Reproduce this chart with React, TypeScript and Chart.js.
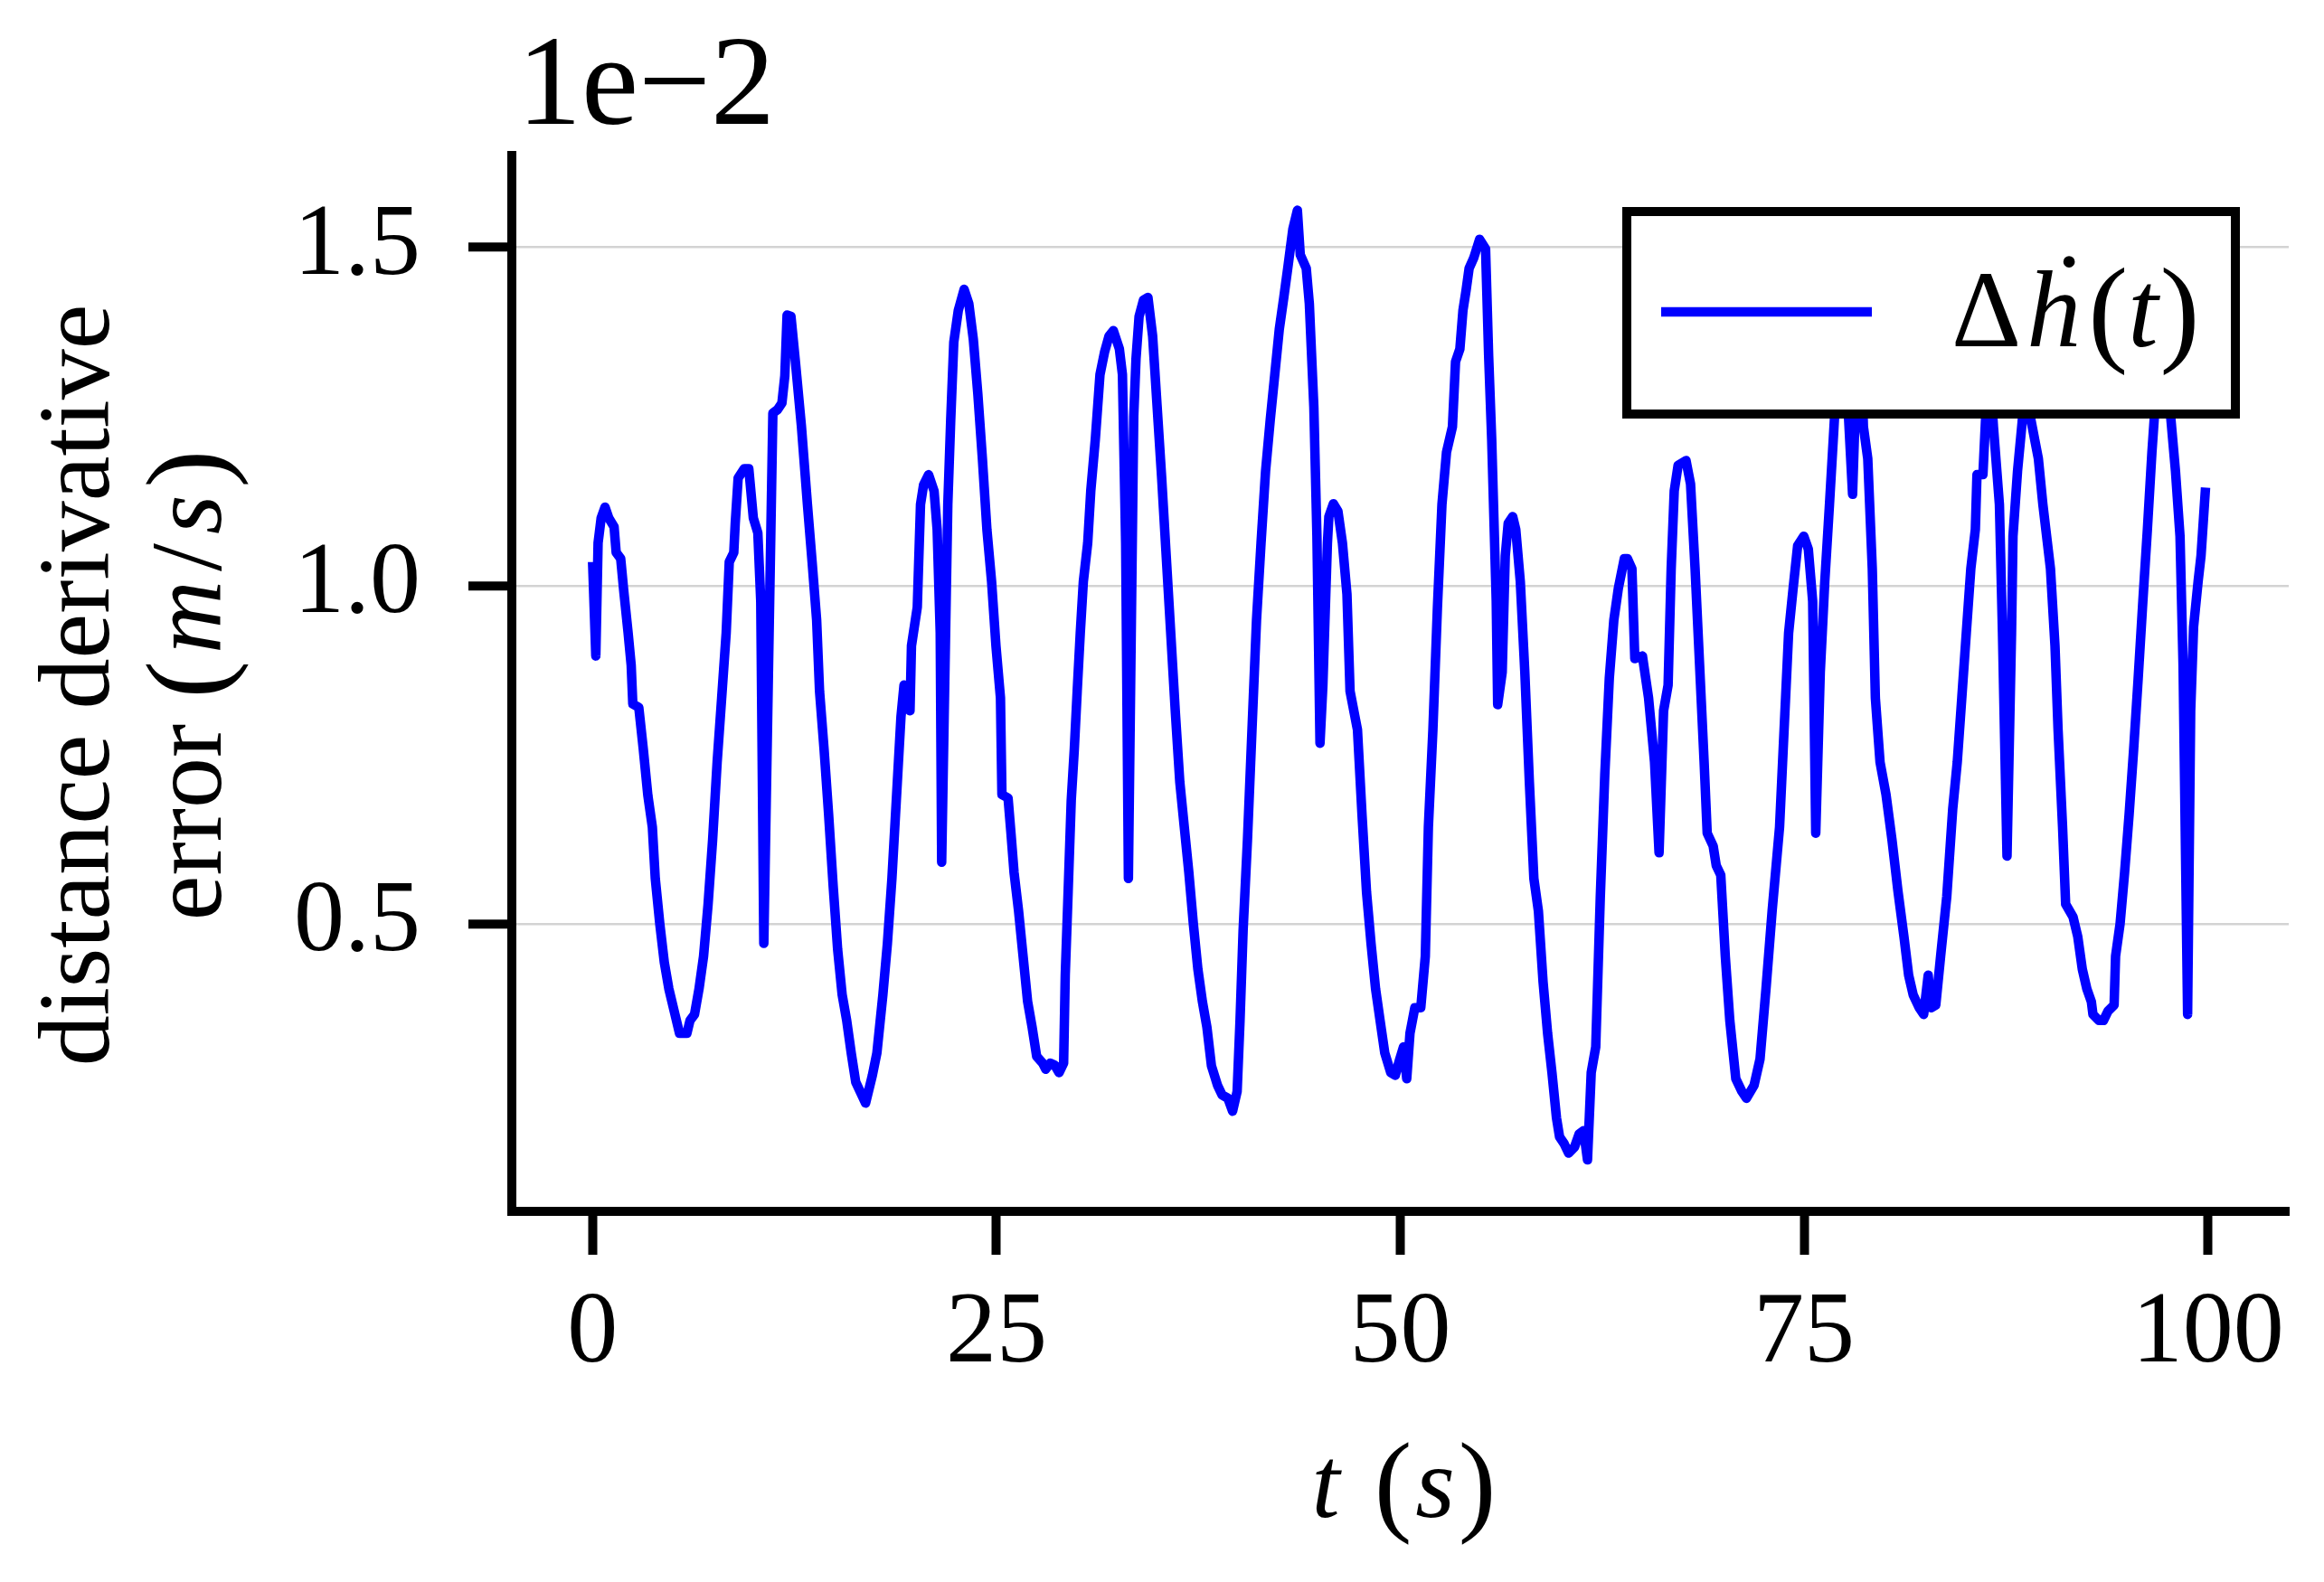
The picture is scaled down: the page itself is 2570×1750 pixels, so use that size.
import React, { useEffect, useRef } from 'react';
import { Chart, registerables } from 'chart.js';

Chart.register(...registerables);

// ---- data (time in s, error in units of 1e-2 m/s) ----
const timeS: number[] = [
  0.0, 0.2, 0.34, 0.53, 0.77, 1.0, 1.33, 1.46, 1.74, 1.93, 2.2, 2.39, 2.49, 2.86, 3.14, 3.42, 3.7, 3.88, 4.16, 4.44,
  4.72, 5.1, 5.38, 5.84, 6.03, 6.31, 6.59, 6.87, 7.15, 7.43, 7.71, 7.99, 8.27, 8.46, 8.74, 8.83, 9.01, 9.39, 9.67, 9.95,
  10.23, 10.41, 10.6, 11.16, 11.44, 11.72, 11.9, 12.04, 12.28, 12.56, 12.93, 13.3, 13.59, 13.87, 14.05, 14.33, 14.61, 14.89, 15.17, 15.45,
  15.73, 16.01, 16.29, 16.9, 17.32, 17.6, 17.97, 18.25, 18.53, 18.8, 19.09, 19.28, 19.65, 19.74, 20.1, 20.3, 20.49, 20.8, 21.14, 21.33,
  21.52, 21.61, 21.99, 22.17, 22.36, 22.64, 23.0, 23.29, 23.57, 23.85, 24.13, 24.41, 24.7, 24.97, 25.25, 25.34, 25.72, 25.9, 26.09, 26.37,
  26.65, 26.93, 27.21, 27.49, 27.86, 28.05, 28.33, 28.61, 28.88, 29.16, 29.26, 29.44, 29.63, 29.82, 30.0, 30.19, 30.38, 30.65, 30.84, 31.12,
  31.41, 31.69, 31.97, 32.24, 32.61, 32.8, 33.0, 33.17, 33.5, 33.64, 33.83, 34.1, 34.38, 34.67, 34.95, 35.23, 35.51, 35.79, 36.07, 36.35,
  36.63, 36.91, 37.19, 37.47, 37.75, 38.03, 38.31, 38.69, 38.97, 39.33, 39.62, 39.9, 40.08, 40.27, 40.54, 40.82, 41.1, 41.38, 41.66, 41.95,
  42.23, 42.51, 42.79, 43.06, 43.35, 43.63, 43.81, 44.18, 44.37, 44.65, 44.84, 45.03, 45.21, 45.49, 45.58, 45.86, 46.14, 46.42, 46.7, 46.89,
  47.35, 47.63, 47.91, 48.19, 48.47, 48.75, 49.04, 49.41, 49.69, 49.97, 50.2, 50.4, 50.6, 50.9, 51.27, 51.55, 51.74, 52.02, 52.3, 52.58,
  52.86, 53.23, 53.42, 53.69, 53.88, 54.07, 54.26, 54.54, 54.91, 55.28, 55.47, 55.66, 55.94, 56.03, 56.31, 56.5, 56.68, 56.96, 57.15, 57.43,
  57.71, 57.99, 58.27, 58.55, 58.84, 59.12, 59.39, 59.67, 59.86, 60.14, 60.42, 60.79, 61.07, 61.35, 61.59, 61.82, 62.1, 62.38, 62.66, 62.94,
  63.22, 63.5, 63.87, 64.06, 64.34, 64.52, 64.99, 65.37, 65.74, 66.02, 66.3, 66.58, 66.77, 66.96, 67.2, 67.69, 67.97, 68.25, 68.53, 68.81,
  69.0, 69.37, 69.56, 69.84, 70.12, 70.4, 70.77, 71.15, 71.43, 71.9, 72.27, 72.64, 73.02, 73.48, 73.76, 74.04, 74.32, 74.6, 74.98, 75.26,
  75.53, 75.72, 76.0, 76.28, 76.57, 76.85, 77.05, 77.3, 77.55, 78.0, 78.3, 78.5, 78.67, 78.94, 79.22, 79.41, 79.7, 80.07, 80.44, 80.81,
  81.18, 81.47, 81.75, 82.12, 82.4, 82.68, 82.87, 83.15, 83.45, 83.83, 84.2, 84.48, 84.76, 85.04, 85.32, 85.6, 85.7, 86.07, 86.3, 86.5,
  86.72, 87.09, 87.28, 87.56, 87.84, 87.93, 88.21, 88.49, 88.7, 88.9, 89.04, 89.5, 89.78, 90.25, 90.53, 90.72, 91.0, 91.19, 91.65, 91.94,
  92.22, 92.5, 92.78, 92.88, 93.25, 93.53, 93.81, 94.19, 94.28, 94.56, 94.84, 95.12, 95.4, 95.68, 95.97, 96.25, 96.53, 96.8, 97.2, 97.5,
  97.71, 97.99, 98.27, 98.46, 98.74, 98.93, 99.11, 99.39, 99.57, 99.85,
];

const errorVals: number[] = [
  1.035, 0.896, 1.063, 1.1, 1.116, 1.1, 1.087, 1.049, 1.04, 0.992, 0.93, 0.882, 0.825, 0.82, 0.758, 0.69, 0.643, 0.567, 0.5, 0.443,
  0.404, 0.366, 0.338, 0.338, 0.357, 0.366, 0.404, 0.452, 0.529, 0.624, 0.739, 0.834, 0.93, 1.035, 1.049, 1.092, 1.159, 1.173, 1.173, 1.1,
  1.078, 0.977, 0.471, 1.255, 1.26, 1.27, 1.31, 1.4, 1.398, 1.33, 1.235, 1.12, 1.035, 0.949, 0.844, 0.758, 0.662, 0.557, 0.462, 0.395,
  0.357, 0.309, 0.266, 0.235, 0.276, 0.309, 0.395, 0.471, 0.567, 0.682, 0.806, 0.853, 0.815, 0.911, 0.968, 1.12, 1.149, 1.164, 1.14, 1.083,
  0.93, 0.591, 1.12, 1.245, 1.36, 1.407, 1.438, 1.417, 1.364, 1.283, 1.188, 1.083, 1.006, 0.911, 0.834, 0.691, 0.686, 0.634, 0.576, 0.519,
  0.452, 0.385, 0.347, 0.304, 0.294, 0.285, 0.294, 0.291, 0.28, 0.294, 0.424, 0.548, 0.682, 0.758, 0.844, 0.93, 1.006, 1.063, 1.14, 1.216,
  1.312, 1.345, 1.369, 1.377, 1.35, 1.312, 1.063, 0.567, 1.25, 1.335, 1.398, 1.422, 1.426, 1.369, 1.264, 1.159, 1.044, 0.93, 0.815, 0.71,
  0.643, 0.576, 0.5, 0.433, 0.385, 0.347, 0.29, 0.261, 0.247, 0.242, 0.223, 0.252, 0.357, 0.49, 0.624, 0.787, 0.949, 1.063, 1.169, 1.245,
  1.312, 1.379, 1.426, 1.474, 1.527, 1.555, 1.489, 1.469, 1.417, 1.264, 1.073, 0.767, 0.853, 1.063, 1.102, 1.121, 1.11, 1.063, 0.987, 0.844,
  0.787, 0.662, 0.547, 0.471, 0.404, 0.357, 0.309, 0.28, 0.276, 0.3, 0.318, 0.271, 0.338, 0.376, 0.376, 0.452, 0.643, 0.787, 0.968, 1.12,
  1.197, 1.235, 1.331, 1.35, 1.407, 1.436, 1.469, 1.484, 1.512, 1.498, 1.34, 1.216, 0.977, 0.824, 0.872, 1.044, 1.092, 1.102, 1.083, 1.006,
  0.872, 0.71, 0.567, 0.519, 0.414, 0.338, 0.28, 0.213, 0.185, 0.175, 0.161, 0.17, 0.189, 0.194, 0.151, 0.28, 0.318, 0.538, 0.72, 0.863,
  0.949, 0.996, 1.04, 1.04, 1.025, 0.892, 0.896, 0.834, 0.739, 0.605, 0.815, 0.853, 1.025, 1.14, 1.178, 1.185, 1.15, 1.025, 0.882, 0.739,
  0.634, 0.615, 0.586, 0.572, 0.452, 0.357, 0.271, 0.252, 0.242, 0.261, 0.3, 0.404, 0.519, 0.643, 0.787, 0.93, 0.996, 1.059, 1.073, 1.054,
  0.977, 0.634, 0.872, 1.006, 1.12, 1.235, 1.32, 1.4, 1.34, 1.135, 1.36, 1.38, 1.235, 1.188, 1.025, 0.834, 0.739, 0.691, 0.624, 0.548,
  0.481, 0.424, 0.395, 0.376, 0.366, 0.424, 0.376, 0.38, 0.452, 0.54, 0.67, 0.739, 0.834, 0.93, 1.025, 1.083, 1.164, 1.164, 1.28, 1.32,
  1.235, 1.12, 0.93, 0.6, 0.93, 1.073, 1.169, 1.24, 1.3, 1.27, 1.245, 1.188, 1.12, 1.025, 0.911, 0.787, 0.643, 0.529, 0.51, 0.481,
  0.433, 0.404, 0.385, 0.366, 0.357, 0.357, 0.371, 0.38, 0.452, 0.5, 0.576, 0.662, 0.758, 0.863, 0.977, 1.083, 1.197, 1.29, 1.36, 1.3,
  1.245, 1.169, 1.073, 0.882, 0.366, 0.815, 0.939, 1.006, 1.044, 1.145,
];

const xTickValues: number[] = [0, 25, 50, 75, 100];
const yTickValues: number[] = [0.5, 1.0, 1.5];
const offsetText = '1e\u22122';
const yLabelLine1 = 'distance derivative';
const seriesName = '\u0394\u1E23(t)';

// ---- layout constants ----
const W = 2570;
const H = 1750;
const AREA = { left: 566, right: 2531, top: 172, bottom: 1340 };
const SERIF = '"Liberation Serif", "Times New Roman", serif';
const LINE_W = 10.5;

type Run = { s: string; it?: boolean; gap?: number; k?: number };

function drawRuns(ctx: CanvasRenderingContext2D, runs: Run[], x: number, y: number, size: number, center: boolean) {
  const fontOf = (r: Run) => `${r.it ? 'italic ' : ''}${Math.round(size * (r.k || 1))}px ${SERIF}`;
  const widths = runs.map((r) => {
    ctx.font = fontOf(r);
    return ctx.measureText(r.s).width + (r.gap || 0);
  });
  const total = widths.reduce((a, b) => a + b, 0);
  let cx = center ? x - total / 2 : x;
  ctx.textAlign = 'left';
  ctx.textBaseline = 'alphabetic';
  runs.forEach((r, i) => {
    ctx.font = fontOf(r);
    // larger math parentheses sit slightly lower, centred on the math axis
    const dy = r.k && r.k > 1 ? size * (r.k - 1) * 0.3 : 0;
    ctx.fillText(r.s, cx, y + dy);
    cx += widths[i];
  });
}

const annotations = {
  id: 'annotations',
  afterDraw(chart: any) {
    const ctx: CanvasRenderingContext2D = chart.ctx;
    const ca = chart.chartArea;
    ctx.save();
    ctx.fillStyle = '#000';

    // offset text
    ctx.font = `142px ${SERIF}`;
    ctx.textAlign = 'left';
    ctx.textBaseline = 'alphabetic';
    ctx.fillText(offsetText, ca.left + 6, 137);

    // x axis label
    drawRuns(
      ctx,
      [
        { s: 't', it: true, gap: 38 },
        { s: '(', k: 1.12, gap: 4 },
        { s: 's', it: true, gap: 4 },
        { s: ')', k: 1.12 },
      ],
      (ca.left + ca.right) / 2 + 4,
      1678,
      112,
      true
    );

    // y axis label (two lines, rotated)
    const cy = (ca.top + ca.bottom) / 2 + 2;
    ctx.save();
    ctx.translate(120, cy);
    ctx.rotate(-Math.PI / 2);
    drawRuns(ctx, [{ s: yLabelLine1 }], 0, 0, 112, true);
    ctx.restore();
    ctx.save();
    ctx.translate(244, cy);
    ctx.rotate(-Math.PI / 2);
    drawRuns(
      ctx,
      [
        { s: 'error ' },
        { s: '(', k: 1.12, gap: 8 },
        { s: 'm', it: true, gap: 10 },
        { s: '/', gap: 10 },
        { s: 's', it: true, gap: 8 },
        { s: ')', k: 1.12 },
      ],
      0,
      0,
      112,
      true
    );
    ctx.restore();

    // legend
    const lx1 = 1799, lx2 = 2472, ly1 = 234, ly2 = 458;
    ctx.fillStyle = '#fff';
    ctx.fillRect(lx1, ly1, lx2 - lx1, ly2 - ly1);
    ctx.strokeStyle = '#000';
    ctx.lineWidth = 10;
    ctx.lineJoin = 'miter';
    ctx.strokeRect(lx1, ly1, lx2 - lx1, ly2 - ly1);
    ctx.strokeStyle = '#0000ff';
    ctx.lineWidth = LINE_W;
    ctx.lineCap = 'butt';
    ctx.beginPath();
    ctx.moveTo(1837, 345);
    ctx.lineTo(2070, 345);
    ctx.stroke();
    ctx.fillStyle = '#000';
    const chars = Array.from(seriesName);
    drawRuns(
      ctx,
      [
        { s: chars[0], gap: 6 },
        { s: chars[1], it: true, gap: 8 },
        { s: chars[2], k: 1.1 },
        { s: chars[3], it: true, gap: 2 },
        { s: chars[4], k: 1.1 },
      ],
      2158,
      383,
      120,
      false
    );
    ctx.restore();
  },
};

export default function App() {
  const ref = useRef<HTMLCanvasElement | null>(null);

  useEffect(() => {
    const canvas = ref.current;
    if (!canvas) return;
    const points = timeS.map((t, i) => ({ x: t, y: errorVals[i] }));
    const tickFont = { family: SERIF, size: 112 };
    const chart = new Chart(canvas, {
      type: 'line',
      data: {
        datasets: [
          {
            label: seriesName,
            data: points,
            borderColor: '#0000ff',
            backgroundColor: '#0000ff',
            borderWidth: LINE_W,
            pointRadius: 0,
            fill: false,
            tension: 0,
            borderJoinStyle: 'round',
            borderCapStyle: 'butt',
          },
        ],
      },
      options: {
        animation: false,
        responsive: false,
        maintainAspectRatio: false,
        devicePixelRatio: 1,
        events: [],
        layout: { padding: { left: 0, right: W - AREA.right, top: AREA.top, bottom: 0 } },
        plugins: { legend: { display: false }, tooltip: { enabled: false }, title: { display: false } },
        scales: {
          x: {
            type: 'linear',
            min: -5,
            max: 105,
            afterBuildTicks: (s: any) => {
              s.ticks = xTickValues.map((v) => ({ value: v }));
            },
            afterFit: (s: any) => {
              s.height = H - AREA.bottom;
              s.paddingLeft = 0;
              s.paddingRight = 0;
            },
            grid: {
              display: true,
              drawOnChartArea: false,
              drawTicks: true,
              tickLength: 48,
              tickWidth: 10,
              tickColor: '#000',
            },
            border: { display: true, color: '#000', width: 10 },
            ticks: {
              color: '#000',
              font: tickFont,
              padding: 21,
              maxRotation: 0,
              autoSkip: false,
              callback: (v: any) => String(v),
            },
          },
          y: {
            type: 'linear',
            min: 0.0748,
            max: 1.636,
            afterBuildTicks: (s: any) => {
              s.ticks = yTickValues.map((v) => ({ value: v }));
            },
            afterFit: (s: any) => {
              s.width = AREA.left;
              s.paddingTop = 0;
              s.paddingBottom = 0;
            },
            grid: {
              display: true,
              drawOnChartArea: true,
              color: '#d3d3d3',
              lineWidth: 2.5,
              drawTicks: true,
              tickLength: 48,
              tickWidth: 10,
              tickColor: '#000',
            },
            border: { display: true, color: '#000', width: 10 },
            ticks: {
              color: '#000',
              font: tickFont,
              padding: 53,
              autoSkip: false,
              callback: (v: any) => Number(v).toFixed(1),
            },
          },
        },
      },
      plugins: [annotations],
    } as any);
    return () => chart.destroy();
  }, []);

  return (
    <div style={{ position: 'fixed', left: 0, top: 0, width: W, height: H, background: '#fff' }}>
      <canvas ref={ref} width={W} height={H} style={{ display: 'block', width: W, height: H }} />
    </div>
  );
}
